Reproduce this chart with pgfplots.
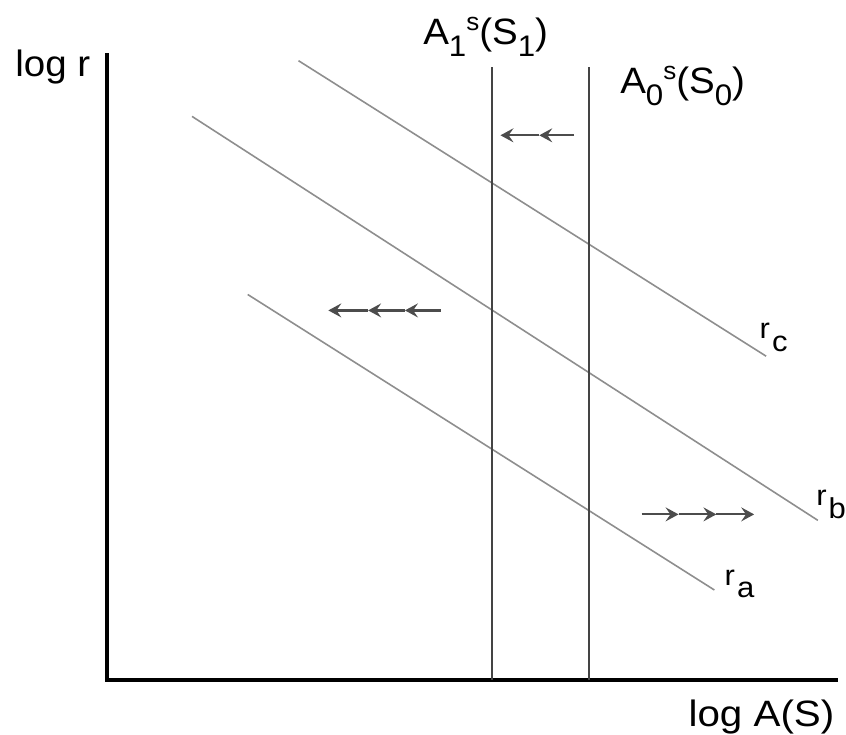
\documentclass[border=0pt]{standalone}
\usepackage{graphicx}
\usepackage{fontspec}
\setmainfont{Liberation Sans}
\usepackage{pgfplots}
\pgfplotsset{compat=1.18}
\usetikzlibrary{arrows.meta}

\definecolor{curvegrey}{HTML}{8E8E8E}
\definecolor{supplygrey}{HTML}{444444}
\definecolor{arrowgrey}{HTML}{4C4C4C}

% text is set a little wider than it is tall, as in the reference
\newcommand{\wide}[1]{\scalebox{1.05}[1]{#1}}
\newcommand{\dn}[1]{\raisebox{-6bp}{\fontsize{15}{16}\selectfont #1}}
\newcommand{\up}[1]{\raisebox{7bp}{\fontsize{12.5}{13}\selectfont #1}}
\newcommand{\rlab}[1]{\scalebox{1.08}[1]{\fontsize{14.5}{16}\selectfont r\kern1bp\raisebox{-6.5bp}{#1}}}

\tikzset{shiftarrow/.style={arrowgrey, line width=1.1bp,
  -{Stealth[length=6.5bp, width=7bp, inset=2.4bp]}}}

\begin{document}
\begin{tikzpicture}[font=\fontsize{18.5}{21}\selectfont]
% coordinates: pixels of the drawing, origin at the corner of the axes
\begin{axis}[
  scale only axis, width=366bp, height=314bp,
  xmin=0, xmax=732, ymin=0, ymax=628,
  axis x line=bottom, axis y line=left,
  axis line style={-, black, line width=2bp, line cap=rect},
  xtick=\empty, ytick=\empty,
  clip=false,
  xlabel={\scalebox{1.1}[1]{log A(S)}}, ylabel={\wide{log r}},
  xlabel style={at={(axis description cs:0.9986,-0.0748)}, anchor=base east, inner sep=0pt},
  ylabel style={at={(axis description cs:-0.127,0.965)}, anchor=base west, rotate=-90, inner sep=0pt},
]
% rate curves r_c, r_b, r_a
\addplot[curvegrey, line width=0.8bp] coordinates {(192,622) (662,325)};
\addplot[curvegrey, line width=0.8bp] coordinates {(85,566) (714,160)};
\addplot[curvegrey, line width=0.8bp] coordinates {(141,387) (610,90)};
% supply lines A1 and A0
\addplot[supplygrey, line width=1bp] coordinates {(386,0) (386,616)};
\addplot[supplygrey, line width=1bp] coordinates {(484,0) (484,616)};
% shifts
\addplot[shiftarrow] coordinates {(469,547) (434,547)};
\addplot[shiftarrow] coordinates {(434,547) (395,547)};
\addplot[shiftarrow] coordinates {(335,371) (299,371)};
\addplot[shiftarrow] coordinates {(299,371) (262,371)};
\addplot[shiftarrow] coordinates {(262,371) (222,371)};
\addplot[shiftarrow] coordinates {(537,166) (574,166)};
\addplot[shiftarrow] coordinates {(574,166) (612,166)};
\addplot[shiftarrow] coordinates {(612,166) (650,166)};

\node[anchor=base west, inner sep=0pt] at (axis cs:317,638) {\wide{A\dn{1}\up{s}(S\dn{1})}};
\node[anchor=base west, inner sep=0pt] at (axis cs:515,589) {\wide{A\dn{0}\up{s}(S\dn{0})}};
\node[anchor=base west, inner sep=0pt] at (axis cs:655,343) {\rlab{c}};
\node[anchor=base west, inner sep=0pt] at (axis cs:712,175) {\rlab{b}};
\node[anchor=base west, inner sep=0pt] at (axis cs:620,95) {\rlab{a}};

\path (axis cs:-108,-55) rectangle (axis cs:738,683);
\end{axis}
\end{tikzpicture}
\end{document}
